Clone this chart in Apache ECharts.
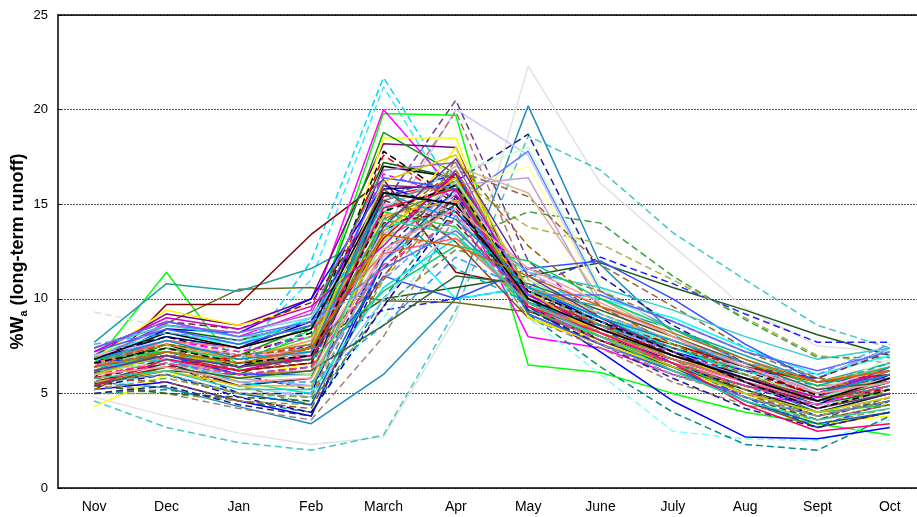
<!DOCTYPE html>
<html>
<head>
<meta charset="utf-8">
<title>%Wa monthly runoff</title>
<script src="https://cdn.jsdelivr.net/npm/echarts@6/dist/echarts.min.js"></script>
<style>
  html, body { margin: 0; padding: 0; background: #fff; }
  #chart { width: 917px; height: 517px; }
</style>
</head>
<body>
<div id="chart"></div>
<script>
const MONTHS = ["Nov", "Dec", "Jan", "Feb", "March", "Apr", "May", "June", "July", "Aug", "Sept", "Oct"];
const Y_TICKS = [0, 5, 10, 15, 20, 25];

// one row per gauge, Nov..Oct, % of long-term annual runoff
const RUNOFF = [
  [4.8, 3.8, 2.9, 2.3, 2.7, 9.0, 22.3, 16.1, 12.8, 9.5, 7.5, 7.2],
  [4.6, 3.2, 2.4, 2.0, 2.8, 9.4, 18.6, 16.8, 13.5, 11.0, 8.6, 7.4],
  [5.6, 5.3, 4.3, 3.4, 6.0, 10.0, 20.2, 11.8, 8.2, 5.6, 4.0, 5.0],
  [6.1, 7.0, 6.0, 5.2, 12.5, 16.2, 18.7, 11.2, 8.6, 6.6, 4.6, 5.6],
  [7.0, 8.4, 7.6, 8.0, 13.5, 20.0, 17.6, 10.2, 8.0, 6.2, 4.8, 6.0],
  [6.4, 7.4, 6.2, 6.6, 15.0, 20.5, 12.0, 9.0, 7.0, 5.6, 4.2, 5.4],
  [6.0, 6.6, 5.8, 6.4, 14.2, 19.9, 11.0, 8.2, 6.4, 5.0, 3.8, 4.8],
  [6.8, 7.6, 6.6, 12.0, 21.7, 15.6, 10.2, 8.6, 6.6, 5.2, 4.6, 6.0],
  [7.2, 8.0, 7.2, 11.0, 21.2, 15.0, 9.6, 8.0, 6.2, 5.0, 4.4, 6.4],
  [6.6, 11.4, 6.3, 8.4, 19.8, 19.7, 6.5, 6.1, 5.0, 4.0, 3.4, 2.8],
  [5.5, 6.2, 6.0, 7.5, 10.0, 10.6, 11.2, 11.9, 10.6, 9.4, 8.1, 7.0],
  [6.8, 8.7, 10.5, 10.6, 9.9, 9.8, 9.3, 8.6, 7.6, 6.6, 5.6, 6.2],
  [7.7, 10.8, 10.4, 11.6, 13.6, 15.5, 10.4, 9.6, 8.4, 7.0, 5.6, 6.6],
  [5.8, 9.7, 9.7, 13.4, 16.3, 11.4, 10.6, 9.0, 7.8, 6.4, 5.2, 6.0],
  [6.2, 7.2, 6.4, 7.6, 9.4, 10.0, 10.6, 12.2, 10.8, 9.2, 7.7, 7.7],
  [6.6, 7.8, 7.0, 8.2, 14.8, 16.4, 13.8, 12.9, 11.0, 9.0, 7.0, 6.6],
  [6.9, 8.0, 7.4, 9.0, 15.6, 13.0, 14.6, 14.0, 11.2, 8.9, 6.9, 6.9],
  [9.3, 8.5, 7.4, 7.0, 12.6, 15.2, 10.8, 8.4, 6.8, 5.6, 4.6, 5.8],
  [6.4, 8.8, 8.0, 9.4, 20.0, 15.6, 8.0, 7.4, 6.0, 5.0, 4.4, 5.6],
  [7.0, 9.2, 8.6, 10.0, 18.2, 18.0, 9.8, 8.4, 7.0, 5.8, 5.0, 6.2],
  [4.3, 6.0, 5.8, 6.6, 18.5, 18.5, 9.0, 7.8, 6.2, 5.0, 3.4, 3.8],
  [5.4, 5.8, 5.0, 4.6, 9.0, 14.0, 9.0, 6.0, 3.0, 2.6, 2.5, 3.6],
  [5.0, 5.2, 4.6, 4.0, 10.0, 15.0, 9.2, 6.4, 4.0, 2.3, 2.0, 3.8],
  [5.2, 5.6, 4.6, 3.8, 12.0, 15.8, 9.6, 7.2, 4.6, 2.7, 2.6, 3.2],
  [6.4, 7.6, 6.4, 7.4, 17.0, 16.4, 9.8, 8.6, 7.0, 6.0, 4.6, 5.4],
  [7.0, 8.0, 7.0, 8.2, 17.8, 15.2, 10.2, 8.8, 7.4, 6.2, 4.9, 6.0],
  [6.6, 7.8, 7.0, 7.0, 12.0, 15.0, 17.8, 10.4, 8.4, 6.6, 5.0, 6.0],
  [7.2, 8.2, 7.8, 8.0, 13.0, 16.6, 18.0, 10.6, 8.2, 6.2, 5.2, 6.8],
  [6.8, 7.6, 7.2, 7.6, 12.0, 15.8, 17.0, 10.2, 7.8, 6.0, 4.8, 5.4],
  [6.6, 7.6, 6.8, 7.4, 13.4, 16.0, 16.4, 9.6, 7.6, 6.2, 5.2, 6.2],
  [6.2, 7.4, 6.2, 6.8, 14.0, 16.8, 15.4, 11.8, 9.6, 7.4, 5.8, 5.6],
  [6.2, 7.6, 7.0, 8.6, 18.8, 16.6, 9.2, 7.6, 6.2, 4.8, 3.8, 4.6],
  [6.0, 8.4, 7.8, 8.8, 17.2, 16.4, 9.6, 8.0, 6.4, 5.4, 4.4, 5.2],
  [5.2, 7.0, 6.6, 7.2, 15.4, 16.2, 9.8, 8.0, 6.8, 5.8, 4.8, 5.8],
  [6.0, 7.0, 6.8, 7.6, 17.6, 15.0, 10.0, 8.4, 7.2, 6.0, 5.0, 6.4],
  [6.6, 8.4, 8.2, 10.0, 16.0, 14.6, 10.6, 8.8, 7.2, 6.2, 5.8, 7.4],
  [5.8, 6.6, 5.0, 5.0, 13.6, 15.6, 9.8, 7.8, 6.6, 5.4, 4.2, 5.2],
  [6.8, 8.0, 7.4, 8.8, 15.8, 16.0, 9.4, 8.0, 6.8, 5.6, 4.4, 6.0],
  [7.0, 8.2, 7.6, 9.0, 14.0, 10.0, 10.6, 10.0, 9.0, 7.4, 6.0, 7.0],
  [6.6, 7.8, 7.2, 8.0, 16.6, 15.4, 9.6, 8.4, 7.0, 5.8, 4.6, 5.6],
  [6.2, 7.2, 6.6, 7.0, 15.0, 14.4, 10.2, 8.2, 6.6, 5.6, 4.8, 5.8],
  [5.8, 6.8, 6.0, 6.2, 13.2, 15.2, 10.6, 9.4, 8.0, 6.6, 5.4, 5.6],
  [6.4, 7.4, 6.6, 7.2, 14.6, 17.0, 15.6, 10.0, 8.0, 6.4, 5.0, 5.8],
  [7.4, 8.6, 8.2, 9.0, 14.8, 16.8, 10.0, 9.0, 7.6, 6.4, 5.8, 7.4],
  [6.0, 6.4, 5.4, 4.4, 9.6, 12.6, 11.6, 10.4, 8.8, 7.2, 5.8, 5.2],
  [6.2, 7.0, 6.2, 6.6, 15.8, 13.0, 9.0, 7.6, 6.4, 4.6, 3.2, 4.0],
  [6.8, 7.6, 7.0, 7.6, 15.2, 16.2, 9.4, 8.2, 6.8, 5.8, 4.8, 6.2],
  [6.4, 7.0, 6.0, 6.0, 11.2, 10.0, 11.6, 12.0, 10.0, 7.6, 5.6, 5.8],
  [5.4, 6.0, 4.8, 4.0, 9.6, 14.8, 9.8, 8.0, 6.6, 5.2, 3.8, 4.6],
  [5.6, 5.0, 4.2, 3.6, 8.0, 14.4, 9.0, 7.4, 5.6, 4.4, 3.6, 4.4],
  [5.0, 5.0, 4.6, 4.4, 11.0, 15.4, 9.6, 8.2, 6.2, 4.6, 3.4, 4.2],
  [5.4, 5.0, 4.8, 4.6, 12.6, 15.0, 9.4, 7.6, 6.0, 4.8, 3.6, 4.8],
  [6.8, 9.4, 8.6, 9.6, 13.0, 18.0, 9.0, 7.6, 6.4, 5.2, 4.0, 4.4],
  [5.6, 6.4, 7.0, 7.2, 13.2, 16.6, 10.2, 8.6, 7.6, 6.4, 5.6, 6.0],
  [6.8, 8.6, 8.2, 9.2, 16.8, 17.2, 10.0, 8.2, 7.0, 5.8, 4.6, 5.8],
  [6.2, 6.6, 5.4, 4.8, 10.0, 13.8, 9.6, 8.0, 6.6, 5.4, 4.4, 5.0],
  [6.6, 6.8, 5.8, 5.4, 12.0, 16.2, 10.6, 8.6, 7.2, 5.8, 4.6, 5.8],
  [6.0, 7.2, 6.4, 7.0, 16.0, 15.8, 9.4, 7.8, 6.6, 5.4, 4.6, 5.6],
  [7.4, 8.6, 8.0, 8.4, 13.8, 14.6, 11.4, 10.6, 9.4, 8.0, 6.8, 7.4],
  [5.6, 6.6, 5.4, 5.8, 15.6, 15.0, 9.6, 7.8, 6.4, 5.2, 4.0, 5.0],
  [6.6, 7.0, 6.0, 6.4, 15.4, 16.6, 10.2, 8.4, 6.6, 4.8, 3.2, 4.6],
  [6.0, 7.4, 6.8, 8.0, 14.6, 13.8, 9.4, 8.0, 6.6, 5.0, 4.0, 4.4],
  [5.8, 5.6, 4.6, 4.2, 11.2, 15.6, 10.2, 8.6, 6.8, 5.0, 3.6, 4.4],
  [6.6, 7.6, 6.8, 7.8, 14.4, 15.2, 10.6, 9.2, 7.8, 6.6, 5.6, 6.4],
  [7.0, 7.8, 7.0, 7.2, 12.2, 15.6, 11.4, 9.6, 8.0, 6.4, 5.2, 6.4],
  [5.6, 6.0, 5.0, 4.4, 12.0, 15.8, 10.0, 8.0, 6.4, 4.6, 3.4, 4.0],
  [5.8, 6.8, 6.2, 6.6, 14.0, 14.6, 10.4, 8.8, 7.6, 6.4, 4.8, 5.2],
  [6.4, 6.8, 5.6, 5.0, 10.6, 13.2, 10.6, 9.0, 7.4, 6.0, 4.8, 5.6],
  [5.6, 6.2, 5.4, 5.4, 13.6, 16.4, 9.6, 8.4, 7.0, 5.6, 4.2, 5.2],
  [7.2, 8.4, 7.6, 8.6, 16.4, 15.8, 9.2, 7.6, 6.2, 4.8, 3.8, 4.6],
  [7.4, 8.8, 8.4, 9.8, 15.2, 14.0, 10.0, 8.6, 7.4, 6.4, 5.8, 7.2],
  [6.2, 6.6, 5.8, 6.0, 13.0, 16.2, 11.0, 9.2, 7.6, 6.0, 4.8, 5.6],
  [5.0, 5.4, 4.4, 3.8, 11.6, 15.4, 9.4, 7.6, 5.8, 4.2, 3.2, 4.0],
  [5.6, 6.0, 5.0, 4.8, 12.4, 15.2, 9.8, 7.6, 6.0, 4.8, 3.8, 4.8],
  [6.0, 7.2, 6.6, 6.8, 14.2, 16.0, 9.8, 8.2, 7.0, 5.8, 4.8, 5.0],
  [6.4, 7.8, 7.4, 8.4, 12.4, 13.2, 9.8, 8.2, 6.8, 5.6, 4.6, 5.8],
  [6.2, 6.8, 5.6, 5.6, 8.6, 12.2, 10.4, 8.8, 7.2, 5.8, 4.6, 5.4],
  [7.2, 9.0, 8.4, 9.6, 12.8, 16.8, 10.2, 8.4, 7.0, 5.8, 4.8, 6.4],
  [6.6, 7.6, 7.0, 7.4, 11.0, 17.4, 12.8, 9.6, 7.6, 6.0, 4.6, 5.4],
  [6.8, 7.2, 6.4, 6.8, 10.4, 12.8, 12.0, 10.0, 8.4, 6.8, 5.4, 6.4],
  [7.4, 8.8, 8.0, 8.8, 11.6, 13.6, 10.2, 10.2, 8.8, 7.2, 6.2, 7.2],
  [6.0, 6.6, 6.0, 6.4, 11.8, 14.2, 9.6, 7.8, 6.6, 5.4, 4.4, 5.4],
  [5.4, 6.4, 5.8, 6.2, 8.6, 11.2, 10.8, 9.4, 8.0, 6.6, 5.2, 5.6],
  [6.0, 7.0, 6.6, 7.4, 16.2, 17.6, 10.4, 8.0, 6.4, 5.0, 4.0, 4.8],
  [6.4, 7.2, 6.6, 8.4, 15.0, 11.6, 9.8, 8.6, 7.4, 6.2, 5.4, 6.6],
  [5.4, 6.8, 6.2, 7.0, 14.8, 15.8, 9.6, 8.2, 6.6, 4.4, 3.0, 3.4],
  [6.2, 7.0, 6.4, 6.8, 13.8, 17.4, 11.2, 9.0, 7.2, 5.6, 4.2, 5.0],
  [6.8, 7.8, 6.8, 7.2, 15.6, 14.2, 10.6, 9.0, 7.8, 6.4, 5.0, 6.0],
  [5.2, 5.8, 5.0, 4.8, 13.6, 16.8, 10.6, 8.6, 6.8, 5.2, 3.8, 4.6],
  [6.8, 8.2, 7.4, 8.4, 15.6, 15.0, 10.0, 8.4, 7.0, 5.8, 4.6, 5.8],
  [6.6, 7.4, 6.6, 7.0, 14.6, 16.0, 10.4, 8.8, 7.2, 5.6, 4.2, 5.2],
  [6.0, 6.4, 5.6, 5.8, 12.6, 14.8, 11.6, 9.8, 8.0, 6.4, 5.0, 5.6],
  [7.6, 8.2, 7.8, 8.8, 11.0, 14.4, 11.4, 9.2, 7.8, 6.6, 6.0, 7.6],
  [5.8, 6.2, 5.2, 5.2, 14.2, 13.4, 9.8, 8.0, 6.2, 4.6, 3.6, 4.2],
  [6.4, 7.2, 6.6, 7.4, 13.4, 12.8, 11.2, 9.6, 8.2, 6.8, 5.6, 6.2]
];

const LINE_COLORS = [
  "#e2e2e2", "#40c8c8", "#1f8ac0", "#1a1a8c", "#c8c8ff", "#6a3d9a", "#b07070", "#00d8ff",
  "#40e0ff", "#00ff00", "#1e5a1e", "#6b6b20", "#20a0a0", "#800000", "#2020ff", "#b0b050",
  "#40a040", "#dddddd", "#ff00ff", "#800080", "#ffff00", "#80ffff", "#008b8b", "#0000ff",
  "#000000", "#000000", "#6080ff", "#c8ffc8", "#ffff99", "#c0a0d0", "#a06040", "#00a000",
  "#006400", "#ff0000", "#ff0000", "#0000ff", "#0000cc", "#000080", "#00ffff", "#ff00ff",
  "#ff80c0", "#c08040", "#d2b48c", "#87ceeb", "#808040", "#8b4513", "#808080", "#3050ff",
  "#0000a0", "#a08070", "#a0a040", "#206020", "#ffee00", "#e00000", "#9966cc", "#99ccff",
  "#9999ff", "#993366", "#33cccc", "#202020", "#2040e0", "#33cc33", "#a0522d", "#ff9933",
  "#ffaaff", "#0060c0", "#a00000", "#00e0e0", "#e0c000", "#4060ff", "#802020", "#90ee90",
  "#202080", "#a0a0a0", "#669900", "#ff6666", "#3399ff", "#cc00cc", "#996600", "#00cc66",
  "#6666ff", "#ff3399", "#336633", "#cccc00", "#00b0b0", "#ff0066", "#663399", "#0099cc",
  "#999933", "#000000", "#000000", "#ff9999", "#6699ff", "#33cc99", "#cc6600"
];

const LINE_DASHED = [
  0, 1, 0, 1, 0, 1, 1, 1, 1, 0, 0, 0, 0, 0, 1, 1,
  1, 1, 0, 0, 0, 1, 1, 0, 0, 1, 0, 0, 0, 0, 1, 0,
  0, 0, 1, 0, 1, 0, 0, 1, 0, 0, 0, 0, 1, 0, 0, 0,
  1, 1, 1, 1, 0, 0, 0, 0, 0, 0, 0, 0, 1, 0, 1, 0,
  0, 0, 1, 0, 0, 0, 1, 0, 1, 1, 0, 0, 1, 0, 1, 0,
  0, 1, 0, 0, 1, 0, 0, 0, 1, 0, 1, 0, 1, 0, 0
];

const chart = echarts.init(document.getElementById("chart"), null, { renderer: "canvas" });

const series = RUNOFF.map((values, i) => ({
  type: "line",
  data: values,
  symbol: "none",
  silent: true,
  lineStyle: {
    color: LINE_COLORS[i],
    width: 1.5,
    type: LINE_DASHED[i] ? [7, 4] : "solid"
  },
  z: 2
}));

chart.setOption({
  animation: false,
  backgroundColor: "#ffffff",
  grid: { left: 58, top: 15, width: 868, height: 473, outerBoundsMode: "none", containLabel: false },
  xAxis: [
    {
      type: "category",
      data: MONTHS,
      boundaryGap: true,
      axisLine: { lineStyle: { color: "#000", width: 1.5 } },
      axisTick: { inside: true, length: 5, interval: 0, lineStyle: { color: "#000" } },
      axisLabel: {
        interval: 0,
        margin: 12,
        color: "#000",
        fontSize: 14,
        fontFamily: "Liberation Sans, Arial, sans-serif"
      },
      splitLine: { show: false }
    },
    {
      type: "category",
      position: "top",
      data: MONTHS,
      axisLine: { lineStyle: { color: "#000", width: 1.5 } },
      axisTick: { show: false },
      axisLabel: { show: false }
    }
  ],
  yAxis: {
    type: "value",
    min: Y_TICKS[0],
    max: Y_TICKS[Y_TICKS.length - 1],
    interval: 5,
    axisLine: { show: true, lineStyle: { color: "#000", width: 1.5 } },
    axisTick: { show: true, inside: true, length: 3, lineStyle: { color: "#000" } },
    axisLabel: {
      color: "#000",
      fontSize: 13,
      margin: 10,
      fontFamily: "Liberation Sans, Arial, sans-serif"
    },
    splitLine: { lineStyle: { color: "#555", type: [2, 1], width: 1 } },
    name: "{b|%W}{s|a}{b| (long-term runoff)}",
    nameLocation: "middle",
    nameGap: 29,
    nameRotate: 90,
    nameMoveOverlap: false,
    nameTextStyle: {
      rich: {
        b: { fontSize: 18, fontWeight: "bold", color: "#000", fontFamily: "Liberation Sans, Arial, sans-serif", lineHeight: 22, verticalAlign: "middle" },
        s: { fontSize: 11, fontWeight: "bold", color: "#000", fontFamily: "Liberation Sans, Arial, sans-serif", lineHeight: 22, verticalAlign: "bottom", padding: [8, 0, 0, 0] }
      }
    }
  },
  series: series
});
</script>
</body>
</html>
